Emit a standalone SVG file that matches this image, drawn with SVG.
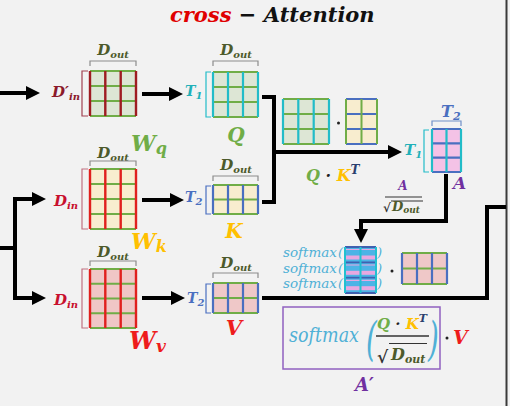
<svg xmlns="http://www.w3.org/2000/svg" width="510" height="406" viewBox="0 0 510 406">
<defs>
<style>
.t{font-family:"DejaVu Serif","Liberation Serif",serif;font-style:italic;font-weight:bold}
.sm{font-family:"DejaVu Serif","Liberation Serif",serif;font-style:italic;fill:#4fb0d6}
.gl{stroke:#70ad47;stroke-width:2;fill:none}
.rd{stroke:#9e1c22;stroke-width:2.4;fill:none}
.rb{stroke:#e0201e;stroke-width:2.4;fill:none}
.tl{stroke:#22bcc8;stroke-width:2.2;fill:none}
.bl{stroke:#4a6fc0;stroke-width:2.2;fill:none}
.brc{stroke:#8c8c8c;stroke-width:1.2;fill:none}
.conn{stroke:#000;stroke-width:4;fill:none;stroke-linejoin:miter}
.dout{fill:#4d5a2b}
</style>
<marker id="ah" markerUnits="userSpaceOnUse" markerWidth="14" markerHeight="14" viewBox="0 0 14 14" refX="6" refY="7" orient="auto">
<path d="M0,0 L14,7 L0,14 z" fill="#000"/>
</marker>
</defs>
<rect x="0" y="0" width="510" height="406" fill="#f2f2f2"/>
<line x1="506.5" y1="0" x2="506.5" y2="406" stroke="#3a3a3a" stroke-width="2"/>

<text class="t" x="170" y="22" font-size="21"><tspan fill="#e00000">cross</tspan><tspan fill="#111"> − Attention</tspan></text>

<g id="connectors">
<path class="conn" d="M0,93 H32" marker-end="url(#ah)"/>
<path class="conn" d="M142,94 H175" marker-end="url(#ah)"/>
<path class="conn" d="M0,248 H17"/>
<path class="conn" d="M15,248 V199 H38" marker-end="url(#ah)"/>
<path class="conn" d="M15,248 V298 H38" marker-end="url(#ah)"/>
<path class="conn" d="M142,200 H176" marker-end="url(#ah)"/>
<path class="conn" d="M142,298 H177" marker-end="url(#ah)"/>
<path class="conn" d="M262,97 H274 V202 H262"/>
<path class="conn" d="M274,152 H394" marker-end="url(#ah)"/>
<path class="conn" d="M262,298 H487 V207 H506"/>
<path class="conn" d="M446,174 V221 H361 V235" marker-end="url(#ah)"/>
</g>

<g id="Wq">
<text class="t dout" x="113" y="55" font-size="15" text-anchor="middle">D<tspan font-size="10" dy="3">out</tspan></text>
<path class="brc" d="M90,66 V61 H136 V66"/>
<path d="M88,71 H82 V116 H88" stroke="#a04050" stroke-width="1.2" fill="none"/>
<text class="t" x="52" y="97" font-size="15" fill="#8b1a2b">D′<tspan font-size="10" dy="3">in</tspan></text>
<rect x="90" y="71" width="46" height="45" fill="#dde6d5"/>
<path class="gl" d="M90,71 H136 M90,86 H136 M90,101 H136 M90,116 H136"/>
<path class="rd" d="M90,71 V116 M105.3,71 V116 M120.7,71 V116 M136,71 V116"/>
<text class="t" x="131" y="151" font-size="22" fill="#70ad47">W<tspan font-size="16" dy="3">q</tspan></text>
</g>

<g id="Q">
<text class="t dout" x="236" y="55" font-size="15" text-anchor="middle">D<tspan font-size="10" dy="3">out</tspan></text>
<path class="brc" d="M213,66 V61 H258 V66"/>
<path d="M211,72 H206 V117 H211" stroke="#22bcc8" stroke-width="1.2" fill="none"/>
<text class="t" x="185" y="96" font-size="14" fill="#22b0b8">T<tspan font-size="10" dy="3">1</tspan></text>
<rect x="213" y="72" width="45" height="45" fill="#dde6d5"/>
<path class="gl" d="M213,72 H258 M213,87 H258 M213,102 H258 M213,117 H258"/>
<path class="tl" d="M213,72 V117 M228,72 V117 M243,72 V117 M258,72 V117"/>
<text class="t" x="236" y="142" font-size="20" fill="#70ad47" text-anchor="middle">Q</text>
</g>

<g id="Wk">
<text class="t dout" x="113" y="158" font-size="15" text-anchor="middle">D<tspan font-size="10" dy="3">out</tspan></text>
<path class="brc" d="M90,166 V161 H136 V166"/>
<path d="M88,169 H82 V229 H88" stroke="#c07080" stroke-width="1.2" fill="none"/>
<text class="t" x="54" y="206" font-size="15" fill="#c8102e">D<tspan font-size="10" dy="3">in</tspan></text>
<rect x="90" y="169" width="46" height="60" fill="#f8edcf"/>
<path class="gl" d="M90,169 H136 M90,184 H136 M90,199 H136 M90,214 H136 M90,229 H136"/>
<path class="rb" d="M90,169 V229 M105.3,169 V229 M120.7,169 V229 M136,169 V229"/>
<text class="t" x="131" y="249" font-size="22" fill="#ffc000">W<tspan font-size="16" dy="3">k</tspan></text>
</g>

<g id="K">
<text class="t dout" x="236" y="170" font-size="15" text-anchor="middle">D<tspan font-size="10" dy="3">out</tspan></text>
<path class="brc" d="M213,181 V176 H258 V181"/>
<path d="M211,186 H206 V214 H211" stroke="#4a6fc0" stroke-width="1.2" fill="none"/>
<text class="t" x="185" y="202" font-size="14" fill="#4a6fc0">T<tspan font-size="10" dy="3">2</tspan></text>
<rect x="213" y="185" width="45" height="29" fill="#f8edcf"/>
<path class="gl" d="M213,185 H258 M213,199.5 H258 M213,214 H258"/>
<path class="bl" d="M213,185 V214 M228,185 V214 M243,185 V214 M258,185 V214"/>
<text class="t" x="234" y="238" font-size="20" fill="#ffc000" text-anchor="middle">K</text>
</g>

<g id="Wv">
<text class="t dout" x="113" y="257" font-size="15" text-anchor="middle">D<tspan font-size="10" dy="3">out</tspan></text>
<path class="brc" d="M90,266 V261 H136 V266"/>
<path d="M88,269 H82 V328 H88" stroke="#c07080" stroke-width="1.2" fill="none"/>
<text class="t" x="54" y="305" font-size="15" fill="#c8102e">D<tspan font-size="10" dy="3">in</tspan></text>
<rect x="90" y="269" width="46" height="59" fill="#f0c6c6"/>
<path class="gl" d="M90,269 H136 M90,283.75 H136 M90,298.5 H136 M90,313.25 H136 M90,328 H136"/>
<path class="rb" d="M90,269 V328 M105.3,269 V328 M120.7,269 V328 M136,269 V328"/>
<text class="t" x="129" y="349" font-size="24" fill="#ee1c1c">W<tspan font-size="17" dy="3">v</tspan></text>
</g>

<g id="V">
<text class="t dout" x="236" y="268" font-size="15" text-anchor="middle">D<tspan font-size="10" dy="3">out</tspan></text>
<path class="brc" d="M213,278 V273 H258 V278"/>
<path d="M211,284 H206 V313 H211" stroke="#4a6fc0" stroke-width="1.2" fill="none"/>
<text class="t" x="187" y="303" font-size="14" fill="#4a6fc0">T<tspan font-size="10" dy="3">2</tspan></text>
<rect x="213" y="283" width="45" height="30" fill="#efc8c8"/>
<path class="gl" d="M213,283 H258 M213,298 H258 M213,313 H258"/>
<path class="bl" d="M213,283 V313 M228,283 V313 M243,283 V313 M258,283 V313"/>
<text class="t" x="234" y="335" font-size="21" fill="#ee1c1c" text-anchor="middle">V</text>
</g>

<g id="QKT">
<rect x="283" y="99" width="46" height="45" fill="#dde6d5"/>
<path class="gl" d="M283,99 H329 M283,114 H329 M283,129 H329 M283,144 H329"/>
<path class="tl" d="M283,99 V144 M298.3,99 V144 M313.7,99 V144 M329,99 V144"/>
<circle cx="338.5" cy="123" r="1.5" fill="#222"/>
<rect x="346" y="99" width="31" height="45" fill="#f8edcf"/>
<path class="bl" d="M346,99 H377 M346,114 H377 M346,129 H377 M346,144 H377"/>
<path class="gl" d="M346,99 V144 M361.5,99 V144 M377,99 V144"/>
<text class="t" x="306" y="181" font-size="16"><tspan fill="#70ad47">Q</tspan><tspan fill="#222"> · </tspan><tspan fill="#ffc000">K</tspan><tspan fill="#2a3f6e" font-size="12" dy="-7">T</tspan></text>
</g>

<g id="A">
<text class="t" x="441" y="117" font-size="16" fill="#4a6fc0">T<tspan font-size="11" dy="3">2</tspan></text>
<path class="brc" d="M432,126 V121 H461 V126" style="stroke:#6f8fc8"/>
<path d="M429,130 H424 V172 H429" stroke="#22bcc8" stroke-width="1.2" fill="none"/>
<text class="t" x="404" y="155" font-size="15" fill="#22b0b8">T<tspan font-size="10" dy="3">1</tspan></text>
<rect x="432" y="129" width="29" height="43" fill="#f4c2e6"/>
<path class="bl" d="M432,129 H461 M432,143.3 H461 M432,157.7 H461 M432,172 H461"/>
<path class="tl" d="M432,129 V172 M446.5,129 V172 M461,129 V172"/>
<text class="t" x="453" y="189" font-size="17" fill="#7030a0">A</text>
</g>

<g id="scale">
<text class="t" x="403" y="190" font-size="12" fill="#7030a0" text-anchor="middle">A</text>
<line x1="385" y1="197" x2="422" y2="197" stroke="#333" stroke-width="1.2"/>
<text class="t" x="383" y="212" font-size="12" fill="#333">√</text>
<line x1="391" y1="201" x2="423" y2="201" stroke="#333" stroke-width="1"/>
<text class="t dout" x="392" y="211" font-size="13">D<tspan font-size="9" dy="2">out</tspan></text>
</g>

<g id="softmax">
<text class="sm" x="283" y="257" font-size="13" textLength="54" lengthAdjust="spacingAndGlyphs">softmax</text>
<text class="sm" x="283" y="273" font-size="13" textLength="54" lengthAdjust="spacingAndGlyphs">softmax</text>
<text class="sm" x="283" y="288" font-size="13" textLength="54" lengthAdjust="spacingAndGlyphs">softmax</text>
<text class="sm" x="338" y="257" font-size="13">(</text>
<text class="sm" x="338" y="273" font-size="13">(</text>
<text class="sm" x="338" y="288" font-size="13">(</text>
<text class="sm" x="377" y="257" font-size="13">)</text>
<text class="sm" x="377" y="273" font-size="13">)</text>
<text class="sm" x="377" y="288" font-size="13">)</text>
<rect x="345" y="247" width="31" height="46" fill="#4db3e6"/>
<path d="M345,249.5 H376 M345,265 H376 M345,280.3 H376" stroke="#e8a8e0" stroke-width="1.2"/>
<rect x="345" y="255.5" width="31" height="4" fill="#e8a8e0"/>
<rect x="345" y="270.8" width="31" height="4" fill="#e8a8e0"/>
<rect x="345" y="286.2" width="31" height="4" fill="#e8a8e0"/>
<path d="M345,247 H376 M345,262.3 H376 M345,277.7 H376 M345,293 H376" stroke="#4060b0" stroke-width="1.8"/>
<path d="M345,247 V293 M360.5,247 V293 M376,247 V293" stroke="#22c0d0" stroke-width="2"/>
<circle cx="392" cy="271" r="1.5" fill="#222"/>
<rect x="402" y="253" width="45" height="31" fill="#efc8c8"/>
<path class="gl" d="M402,253 H447 M402,268.5 H447 M402,284 H447"/>
<path class="bl" d="M402,253 V284 M417,253 V284 M432,253 V284 M447,253 V284"/>
</g>

<g id="Aprime">
<rect x="283" y="307" width="157" height="62" fill="none" stroke="#9060c0" stroke-width="1.5"/>
<text class="sm" x="289" y="342" font-size="20" textLength="70" lengthAdjust="spacingAndGlyphs">softmax</text>
<text class="sm" x="366" y="355" font-size="46" transform="translate(366,0) scale(0.6,1) translate(-366,0)">(</text>
<text class="sm" x="428" y="355" font-size="46" transform="translate(428,0) scale(0.6,1) translate(-428,0)">)</text>
<text class="t" x="377" y="329" font-size="15"><tspan fill="#70ad47">Q</tspan><tspan fill="#222"> · </tspan><tspan fill="#ffc000">K</tspan><tspan fill="#2a3f6e" font-size="11" dy="-7">T</tspan></text>
<line x1="376" y1="336" x2="429" y2="336" stroke="#333" stroke-width="1.5"/>
<text class="t" x="377" y="363" font-size="17" fill="#333">√</text>
<line x1="389" y1="343.5" x2="427" y2="343.5" stroke="#333" stroke-width="1.2"/>
<text class="t dout" x="391" y="360" font-size="16">D<tspan font-size="11" dy="3">out</tspan></text>
<circle cx="447" cy="338" r="1.5" fill="#222"/>
<text class="t" x="453" y="344" font-size="19" fill="#ee1c1c">V</text>
<text class="t" x="355" y="391" font-size="18" fill="#7030a0">A′</text>
</g>
</svg>
